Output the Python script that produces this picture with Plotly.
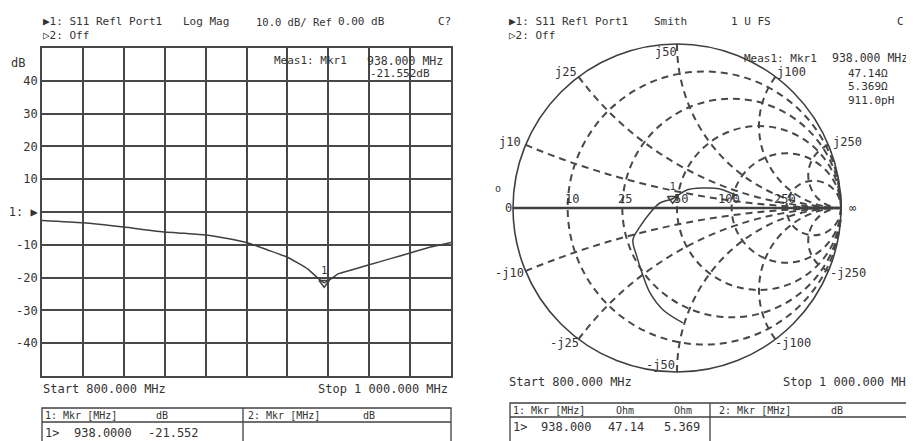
import plotly.graph_objects as go

# the page body keeps its default 8px margin, so the figure is drawn 8px in
OFF = 8
FW, FH = 914 - OFF, 441 - OFF

# S11 log magnitude trace
freq_mhz = [800, 820, 840, 860, 870, 880, 890, 900, 910, 920, 930, 938,
            945, 950, 960, 970, 980, 990, 1000]
s11_db = [-2.6, -3.3, -4.6, -6.1, -6.5, -7.0, -8.0, -9.3, -11.5, -13.8, -17.4,
          -21.55, -18.8, -17.9, -16.1, -14.3, -12.5, -10.7, -9.3]

db_ticks = [40, 30, 20, 10, 0, -10, -20, -30, -40]
db_ticktext = ['40', '30', '20', '10', '1: ▶', '-10', '-20', '-30', '-40']

# Smith trace, impedance in ohm (800 MHz -> 1000 MHz), Z0 = 50
z0 = 50
smith_r = [17.9, 19.4, 21.7, 24.5, 26.0, 27.0, 30.8, 35.8, 40.5, 47.14,
           55.0, 66.5, 82.3, 105.8]
smith_x = [-49.4, -39.8, -31.9, -24.3, -18.3, -11.8, -7.6, -2.2, 2.5, 5.369,
           12.3, 16.9, 20.8, 17.9]

# marker 1
mkr_freq = 938.0
mkr_db = -21.552
mkr_r = 47.14
mkr_x = 5.369

# smith grid (ohm)
r_grid = [10, 25, 50, 100, 250]
x_grid = [10, 25, 50, 100, 250]

TXT = '#333333'
LN = '#404040'
GRID = '#484848'


def fx(x):
    return (x - OFF) / FW


def fy(y):
    return 1 - (y - OFF) / FH


fig = go.Figure()

fig.add_trace(go.Scatter(
    x=freq_mhz, y=s11_db, mode='lines',
    line=dict(color=LN, width=1.5, shape='spline', smoothing=0.5),
    hoverinfo='skip'))
fig.add_trace(go.Scatter(
    x=[mkr_freq], y=[mkr_db], mode='markers+text',
    marker=dict(symbol='triangle-down-open', size=9, color=LN, line=dict(width=1.5)),
    text=['1'], textposition='top center',
    textfont=dict(size=10, color=TXT), hoverinfo='skip'))

fig.add_trace(go.Scattersmith(
    real=[r / z0 for r in smith_r], imag=[x / z0 for x in smith_x],
    mode='lines', line=dict(color=LN, width=1.5, shape='spline'),
    hoverinfo='skip'))
fig.add_trace(go.Scattersmith(
    real=[mkr_r / z0], imag=[mkr_x / z0], mode='markers+text',
    marker=dict(symbol='triangle-down-open', size=9, color=LN, line=dict(width=1.5)),
    text=['1'], textposition='top center',
    textfont=dict(size=10, color=TXT), hoverinfo='skip'))

fig.update_layout(
    width=FW, height=FH, template='none', showlegend=False,
    margin=dict(l=0, r=0, t=0, b=0),
    paper_bgcolor='white', plot_bgcolor='white',
    font=dict(family='DejaVu Sans Mono', size=12, color=TXT),
    xaxis=dict(domain=[fx(42), fx(451)], range=[800, 1000], tick0=800, dtick=20,
               showticklabels=False, ticks='', showgrid=True, gridcolor=GRID,
               gridwidth=1.8, showline=True, mirror=True, linecolor=GRID,
               linewidth=1.8, zeroline=False, automargin=False),
    yaxis=dict(domain=[fy(376), fy(48)], range=[-50, 50],
               tickvals=db_ticks, ticktext=db_ticktext, ticks='',
               tickfont=dict(size=12, color=TXT),
               showgrid=True, gridcolor=GRID, gridwidth=1.8, showline=True,
               mirror=True, linecolor=GRID, linewidth=1.8, zeroline=False,
               automargin=False),
    smith=dict(
        domain=dict(x=[fx(513), fx(841)], y=[fy(372), fy(44)]),
        bgcolor='white',
        realaxis=dict(tickvals=[r / z0 for r in r_grid], showticklabels=False,
                      ticks='', gridcolor=GRID, griddash='7px,5px', gridwidth=1.7,
                      showline=True, linecolor=LN, linewidth=2.5),
        imaginaryaxis=dict(tickvals=[-x / z0 for x in x_grid[::-1]] + [x / z0 for x in x_grid],
                           showticklabels=False, ticks='', gridcolor=GRID,
                           griddash='7px,5px', gridwidth=1.7, showline=True,
                           linecolor=LN, linewidth=1.6),
    ),
)


def label(x, y, text, anchor='left', size=12):
    fig.add_annotation(x=fx(x), y=fy(y), xref='paper', yref='paper',
                       text=text, showarrow=False, xanchor=anchor,
                       yanchor='middle', font=dict(size=size, color=TXT),
                       borderpad=0)


# left panel text
label(42, 22, '▶1: S11 Refl Port1', size=11)
label(182, 22, 'Log Mag', size=11)
label(255, 22, '10.0 dB/ Ref', size=10.5)
label(337, 22, '0.00 dB', size=11)
label(437, 22, 'C?', size=11)
label(42, 35, '▷2: Off', size=11)
label(10, 63, 'dB')
label(273, 61, 'Meas1: Mkr1', size=11)
label(444, 61, f'{mkr_freq:.3f} MHz', 'right', 11.5)
label(431, 74, f'{mkr_db:.3f}dB', 'right', 11)
label(42, 389, 'Start 800.000 MHz')
label(449, 389, 'Stop 1 000.000 MHz', 'right')

# right panel text
label(508, 22, '▶1: S11 Refl Port1', size=11)
label(653, 22, 'Smith', size=11)
label(730, 22, '1 U FS', size=11)
label(896, 22, 'C!', size=11)
label(508, 35, '▷2: Off', size=11)
label(743, 58, 'Meas1: Mkr1', size=11)
label(909, 58, f'{mkr_freq:.3f} MHz', 'right', 11.5)
label(847, 73, f'{mkr_r:.2f}Ω', size=11)
label(847, 87, f'{mkr_x:.3f}Ω', size=11)
label(847, 101, '911.0pH', size=11)
label(508, 382, 'Start 800.000 MHz')
label(782, 382, 'Stop 1 000.000 MHz')

# smith grid labels
label(508, 208, '0', 'center')
label(498, 188, 'o', 'center', 10)
label(852, 208, '∞', 'center')
for txt, xx in zip(['10', '25', '50', '100', '250'], [572, 625, 681, 729, 785]):
    label(xx, 199, txt, 'center')
for txt, xx, yy in [('j10', 510, 142), ('j25', 566, 72), ('j50', 666, 52),
                    ('j100', 791, 72), ('j250', 847, 142),
                    ('-j10', 509, 273), ('-j25', 564, 343), ('-j50', 660, 365),
                    ('-j100', 793, 343), ('-j250', 848, 273)]:
    label(xx, yy, txt, 'center')


# marker tables
def box(x0, y0, x1, y1):
    fig.add_shape(type='rect', xref='paper', yref='paper', x0=fx(x0), x1=fx(x1),
                  y0=fy(y1), y1=fy(y0), line=dict(color=LN, width=1.3))


def hline(x0, x1, y):
    fig.add_shape(type='line', xref='paper', yref='paper', x0=fx(x0), x1=fx(x1),
                  y0=fy(y), y1=fy(y), line=dict(color=LN, width=1.3))


def vline(x, y0, y1):
    fig.add_shape(type='line', xref='paper', yref='paper', x0=fx(x), x1=fx(x),
                  y0=fy(y0), y1=fy(y1), line=dict(color=LN, width=1.3))


box(42, 408, 451, 450)
hline(42, 451, 422)
vline(243, 408, 450)
label(44, 415, '1: Mkr [MHz]', size=10)
label(155, 415, 'dB', size=10)
label(247, 415, '2: Mkr [MHz]', size=10)
label(362, 415, 'dB', size=10)
label(44, 433, '1>')
label(73, 433, f'{mkr_freq:.4f}')
label(147, 433, f'{mkr_db:.3f}')

box(510, 403, 930, 450)
hline(510, 930, 417)
vline(710, 403, 450)
label(512, 410, '1: Mkr [MHz]', size=10)
label(615, 410, 'Ohm', size=10)
label(673, 410, 'Ohm', size=10)
label(718, 410, '2: Mkr [MHz]', size=10)
label(830, 410, 'dB', size=10)
label(512, 427, '1>')
label(540, 427, f'{mkr_freq:.3f}')
label(607, 427, f'{mkr_r:.2f}')
label(663, 427, f'{mkr_x:.3f}')

fig.write_html('out.html')
